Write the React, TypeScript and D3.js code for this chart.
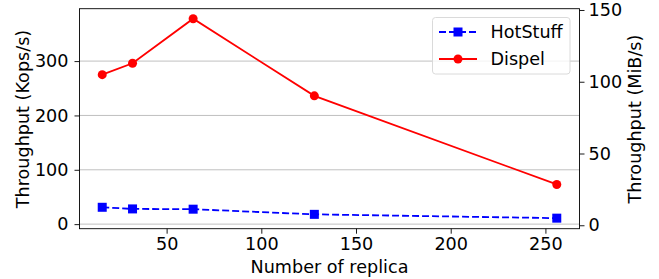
import { useEffect, useRef } from 'react';
import * as d3 from 'd3';

const replicas = [16, 32, 64, 128, 256];
const hotstuff = [31, 28, 27.5, 18, 11];
const dispel = [275, 296, 378, 236, 73];
const xTicks = [50, 100, 150, 200, 250];
const leftTicks = [0, 100, 200, 300];
const rightTicks = [0, 50, 100, 150];

const width = 659;
const height = 279;
const margin = { top: 8.7, right: 79.5, bottom: 50.3, left: 79.5 };
const fontSize = 17.6;

const App = () => {
  const ref = useRef<SVGSVGElement | null>(null);

  useEffect(() => {
    if (!ref.current) return;
    const svg = d3.select(ref.current);
    svg.selectAll('*').remove();

    const x = d3.scaleLinear([4, 268], [margin.left, width - margin.right]);
    const y = d3.scaleLinear([-8.4, 396.4], [height - margin.bottom, margin.top]);
    const y2 = d3.scaleLinear([-2.4, 150.9], [height - margin.bottom, margin.top]);

    const font = 'DejaVu Sans, sans-serif';

    // grid
    svg
      .append('g')
      .selectAll('line')
      .data(leftTicks)
      .join('line')
      .attr('x1', margin.left)
      .attr('x2', width - margin.right)
      .attr('y1', d => y(d))
      .attr('y2', d => y(d))
      .attr('stroke', '#b0b0b0')
      .attr('stroke-width', 0.8);

    const xAxis = d3.axisBottom(x).tickValues(xTicks).tickSize(5).tickPadding(3.5).tickSizeOuter(0);
    const yAxis = d3.axisLeft(y).tickValues(leftTicks).tickSize(5).tickPadding(6).tickSizeOuter(0);
    const yAxis2 = d3.axisRight(y2).tickValues(rightTicks).tickSize(5).tickPadding(4).tickSizeOuter(0);

    const styleAxis = (g: d3.Selection<SVGGElement, unknown, null, undefined>) => {
      g.select('.domain').remove();
      g.selectAll('.tick line').attr('stroke', '#000').attr('stroke-width', 0.9);
      g.selectAll('.tick text').attr('font-family', font).attr('font-size', fontSize).attr('fill', '#000');
    };

    svg
      .append('g')
      .attr('transform', `translate(0,${height - margin.bottom})`)
      .call(xAxis)
      .call(styleAxis);
    svg.append('g').attr('transform', `translate(${margin.left},0)`).call(yAxis).call(styleAxis);
    svg
      .append('g')
      .attr('transform', `translate(${width - margin.right},0)`)
      .call(yAxis2)
      .call(styleAxis);

    // frame
    svg
      .append('rect')
      .attr('x', margin.left)
      .attr('y', margin.top)
      .attr('width', width - margin.left - margin.right)
      .attr('height', height - margin.top - margin.bottom)
      .attr('fill', 'none')
      .attr('stroke', '#000')
      .attr('stroke-width', 0.9);

    // axis labels
    svg
      .append('text')
      .attr('x', (margin.left + width - margin.right) / 2)
      .attr('y', 272.7)
      .attr('text-anchor', 'middle')
      .attr('font-family', font)
      .attr('font-size', fontSize)
      .text('Number of replica');
    svg
      .append('text')
      .attr('transform', `translate(28.5,119) rotate(-90)`)
      .attr('text-anchor', 'middle')
      .attr('font-family', font)
      .attr('font-size', fontSize)
      .text('Throughput (Kops/s)');
    svg
      .append('text')
      .attr('transform', `translate(641,119) rotate(-90)`)
      .attr('text-anchor', 'middle')
      .attr('font-family', font)
      .attr('font-size', fontSize)
      .text('Throughput (MiB/s)');

    const idx = d3.range(replicas.length);

    // HotStuff
    const lineH = d3
      .line<number>()
      .x(i => x(replicas[i]))
      .y(i => y(hotstuff[i]));
    svg
      .append('path')
      .attr('d', lineH(idx))
      .attr('fill', 'none')
      .attr('stroke', '#0000ff')
      .attr('stroke-width', 1.8)
      .attr('stroke-dasharray', '7,3');
    svg
      .append('g')
      .selectAll('rect')
      .data(idx)
      .join('rect')
      .attr('x', i => x(replicas[i]) - 4.5)
      .attr('y', i => y(hotstuff[i]) - 4.5)
      .attr('width', 9)
      .attr('height', 9)
      .attr('fill', '#0000ff');

    // Dispel
    const lineD = d3
      .line<number>()
      .x(i => x(replicas[i]))
      .y(i => y(dispel[i]));
    svg
      .append('path')
      .attr('d', lineD(idx))
      .attr('fill', 'none')
      .attr('stroke', '#ff0000')
      .attr('stroke-width', 1.8);
    svg
      .append('g')
      .selectAll('circle')
      .data(idx)
      .join('circle')
      .attr('cx', i => x(replicas[i]))
      .attr('cy', i => y(dispel[i]))
      .attr('r', 4.5)
      .attr('fill', '#ff0000');

    // legend
    const lg = svg.append('g');
    lg.append('rect')
      .attr('x', 432.5)
      .attr('y', 17.5)
      .attr('width', 137.5)
      .attr('height', 56.5)
      .attr('rx', 3)
      .attr('fill', '#fff')
      .attr('fill-opacity', 0.8)
      .attr('stroke', '#d6d6d6')
      .attr('stroke-width', 0.9);
    const items = [
      { name: 'HotStuff', color: '#0000ff', dash: '7,3', marker: 'square' },
      { name: 'Dispel', color: '#ff0000', dash: null, marker: 'circle' },
    ];
    items.forEach((it, k) => {
      const cy = 32 + k * 27;
      lg.append('line')
        .attr('x1', 439)
        .attr('x2', 477)
        .attr('y1', cy)
        .attr('y2', cy)
        .attr('stroke', it.color)
        .attr('stroke-width', 1.8)
        .attr('stroke-dasharray', it.dash);
      if (it.marker === 'square') {
        lg.append('rect').attr('x', 458 - 4.5).attr('y', cy - 4.5).attr('width', 9).attr('height', 9).attr('fill', it.color);
      } else {
        lg.append('circle').attr('cx', 458).attr('cy', cy).attr('r', 4.5).attr('fill', it.color);
      }
      lg.append('text')
        .attr('x', 490.5)
        .attr('y', cy)
        .attr('dy', '0.35em')
        .attr('font-family', font)
        .attr('font-size', fontSize)
        .text(it.name);
    });
  }, []);

  return (
    <svg
      ref={ref}
      width={width}
      height={height}
      style={{ position: 'absolute', left: 0, top: 0, background: '#fff', display: 'block' }}
    />
  );
};

export default App;
